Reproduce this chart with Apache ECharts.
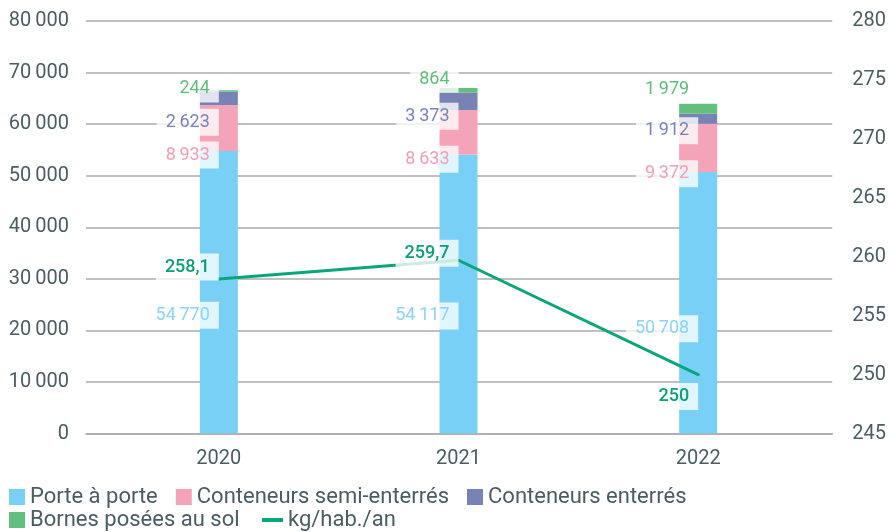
<!DOCTYPE html>
<html>
<head>
<meta charset="utf-8">
<script src="https://cdn.jsdelivr.net/npm/echarts@6/dist/echarts.min.js"></script>
<style>
  html, body { margin: 0; padding: 0; background: #ffffff; }
</style>
</head>
<body>
<div id="chart" style="width: 889px; height: 532px;"></div>
<script>
// données
var years = ['2020', '2021', '2022'];
var porteAPorte = [54770, 54117, 50708];
var semiEnterres = [8933, 8633, 9372];
var enterres = [2623, 3373, 1912];
var bornesSol = [244, 864, 1979];
var kgHabAn = [258.1, 259.7, 250];

// décalage vertical des étiquettes (px, par rapport au centre du segment)
var shiftPorte = [23, 22, 26];
var shiftSemi = [27, 27, 26];
var shiftEnterres = [24, 15, 12];
var shiftBornes = [-2, -11, -19];
var shiftLigne = [-12, -7, 22];

var textColor = '#4a5d64';
var fontFamily = 'Roboto, "DejaVu Sans", sans-serif';

function milliers(v) {
    return String(v).replace(/\B(?=(\d{3})+(?!\d))/g, '\u2009');
}

function barData(values, shifts) {
    return values.map(function (v, i) {
        return { value: v, label: { offset: [0, shifts[i]] } };
    });
}

function barLabel(color) {
    return {
        show: true,
        position: 'inside',
        align: 'right',
        verticalAlign: 'middle',
        color: color,
        fontSize: 18,
        fontFamily: fontFamily,
        backgroundColor: 'rgba(255,255,255,0.78)',
        padding: [5, 9, 4, 9],
        formatter: function (p) { return milliers(p.value); }
    };
}

function barSeries(name, values, shifts, color, labelColor) {
    return {
        name: name,
        type: 'bar',
        stack: 'total',
        xAxisIndex: 1,
        yAxisIndex: 2,
        barWidth: 38,
        itemStyle: { color: color },
        label: barLabel(labelColor),
        data: barData(values, shifts)
    };
}

var chart = echarts.init(document.getElementById('chart'));

var legendText = { color: textColor, fontSize: 22, fontFamily: fontFamily };

chart.setOption({
    animation: false,
    textStyle: { fontFamily: fontFamily },
    grid: [
        { left: 86, right: 56, top: 21, bottom: 98.5 },
        { left: 99, right: 71, top: 21, bottom: 98.5 }
    ],
    legend: [
        {
            data: ['Porte à porte', 'Conteneurs semi-enterrés', 'Conteneurs enterrés'],
            left: 4, top: 481, padding: 5,
            icon: 'rect', itemWidth: 16, itemHeight: 16, itemGap: 18,
            selectedMode: false,
            textStyle: legendText
        },
        {
            data: ['Bornes posées au sol'],
            left: 4, top: 504, padding: 5,
            icon: 'rect', itemWidth: 16, itemHeight: 16,
            selectedMode: false,
            textStyle: legendText
        },
        {
            data: ['kg/hab./an'],
            left: 257, top: 504, padding: 5,
            icon: 'rect', itemWidth: 21, itemHeight: 4,
            selectedMode: false,
            textStyle: legendText
        }
    ],
    xAxis: [
        {
            type: 'category', gridIndex: 0, data: years,
            axisLine: { show: true, lineStyle: { color: '#ababab', width: 1.5 } },
            axisTick: { show: false }, axisLabel: { show: false }
        },
        {
            type: 'category', gridIndex: 1, data: years,
            axisLine: { show: false }, axisTick: { show: false },
            axisLabel: { color: textColor, fontSize: 20, margin: 15 }
        }
    ],
    yAxis: [
        {
            type: 'value', gridIndex: 0, min: 0, max: 80000, interval: 10000,
            axisLine: { show: false }, axisTick: { show: false },
            axisLabel: { color: textColor, fontSize: 20, margin: 17, formatter: milliers },
            splitLine: { lineStyle: { color: '#ababab', width: 1.5 } }
        },
        {
            type: 'value', gridIndex: 0, position: 'right', min: 245, max: 280, interval: 5,
            axisLine: { show: false }, axisTick: { show: false },
            axisLabel: { color: textColor, fontSize: 20, margin: 20 },
            splitLine: { show: false }
        },
        { type: 'value', gridIndex: 1, min: 0, max: 80000, interval: 10000, show: false },
        { type: 'value', gridIndex: 1, min: 245, max: 280, interval: 5, show: false }
    ],
    series: [
        barSeries('Porte à porte', porteAPorte, shiftPorte, '#79d0f6', '#8cd4f4'),
        barSeries('Conteneurs semi-enterrés', semiEnterres, shiftSemi, '#f4a3b8', '#f0a0b6'),
        barSeries('Conteneurs enterrés', enterres, shiftEnterres, '#7783b5', '#7684b9'),
        barSeries('Bornes posées au sol', bornesSol, shiftBornes, '#62bf7e', '#5fbd7b'),
        {
            name: 'kg/hab./an',
            type: 'line',
            xAxisIndex: 1,
            yAxisIndex: 3,
            symbol: 'circle',
            symbolSize: 3,
            itemStyle: { color: '#0aa57c' },
            lineStyle: { color: '#0aa57c', width: 3 },
            label: {
                show: true,
                position: 'inside',
                align: 'right',
                verticalAlign: 'middle',
                color: '#0c9f78',
                fontSize: 18,
                fontWeight: 500,
                backgroundColor: 'rgba(255,255,255,0.78)',
                padding: [5, 9, 4, 9],
                formatter: function (p) { return String(p.value).replace('.', ','); }
            },
            data: kgHabAn.map(function (v, i) {
                return { value: v, label: { offset: [0, shiftLigne[i]] } };
            })
        }
    ]
});
</script>
</body>
</html>
